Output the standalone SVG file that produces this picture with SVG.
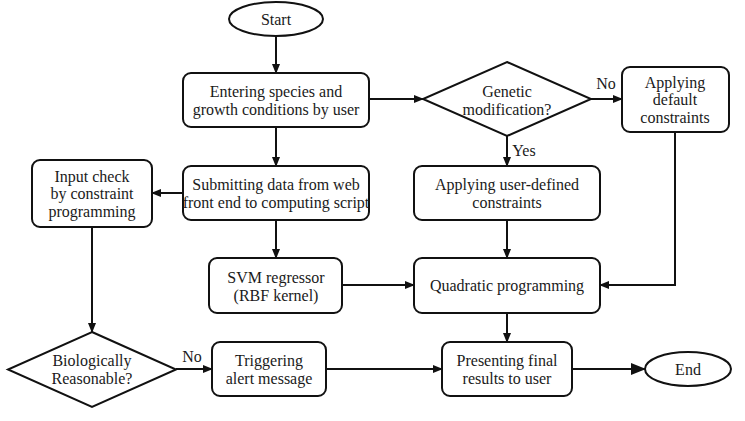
<svg xmlns="http://www.w3.org/2000/svg" width="745" height="421" viewBox="0 0 745 421">
<style>
.s{fill:#fff;stroke:#111;stroke-width:2}
.c{fill:none;stroke:#111;stroke-width:2}
text{font-family:'Liberation Serif','DejaVu Serif',serif;font-size:16px;fill:#1a1a1a;text-anchor:middle}
</style>
<defs>
<marker id="a" markerWidth="10" markerHeight="8" refX="9" refY="4" orient="auto" markerUnits="userSpaceOnUse"><path d="M0,0 L10,4 L0,8 Z" fill="#111"/></marker>
<marker id="b" markerWidth="15" markerHeight="12" refX="14" refY="6" orient="auto" markerUnits="userSpaceOnUse"><path d="M0,0 L15,6 L0,12 Z" fill="#111"/></marker>
</defs>
<rect width="745" height="421" fill="#fff"/>
<g id="connectors">
<path class="c" d="M276,36 V73" marker-end="url(#a)"/>
<path class="c" d="M369,99 H423" marker-end="url(#a)"/>
<path class="c" d="M590,99 H622" marker-end="url(#a)"/>
<path class="c" d="M507,136 V166" marker-end="url(#a)"/>
<path class="c" d="M507,220 V258" marker-end="url(#a)"/>
<path class="c" d="M675,132 V285 H600" marker-end="url(#a)"/>
<path class="c" d="M276,127 V166" marker-end="url(#a)"/>
<path class="c" d="M183,193 H152" marker-end="url(#a)"/>
<path class="c" d="M276,220 V258" marker-end="url(#a)"/>
<path class="c" d="M342,285 H414" marker-end="url(#a)"/>
<path class="c" d="M92,227 V332" marker-end="url(#a)"/>
<path class="c" d="M176,369 H212" marker-end="url(#a)"/>
<path class="c" d="M326,369 H442" marker-end="url(#a)"/>
<path class="c" d="M507,313 V342" marker-end="url(#a)"/>
<path class="c" d="M572,369 H645" marker-end="url(#b)"/>
<text x="606" y="89">No</text>
<text x="524" y="156">Yes</text>
<text x="192" y="362">No</text>
</g>
<g id="start"><ellipse class="s" cx="276" cy="19" rx="47" ry="17"/><text x="276" y="25">Start</text></g>
<g id="entering"><rect class="s" x="183" y="73" width="186" height="54" rx="8"/><text x="276" y="97">Entering species and</text><text x="276" y="115">growth conditions by user</text></g>
<g id="genetic"><polygon class="s" points="507,62 591,99 507,136 423,99"/><text x="507" y="97">Genetic</text><text x="507" y="115">modification?</text></g>
<g id="default"><rect class="s" x="622" y="67" width="107" height="65" rx="8"/><text x="675" y="88">Applying</text><text x="675" y="105">default</text><text x="675" y="123">constraints</text></g>
<g id="userdefined"><rect class="s" x="414" y="166" width="186" height="54" rx="8"/><text x="507" y="190">Applying user-defined</text><text x="507" y="208">constraints</text></g>
<g id="submitting"><rect class="s" x="183" y="166" width="186" height="54" rx="8"/><text x="276" y="190">Submitting data from web</text><text x="276" y="208">front end to computing script</text></g>
<g id="inputcheck"><rect class="s" x="32" y="160" width="120" height="67" rx="8"/><text x="92" y="182">Input check</text><text x="92" y="199">by constraint</text><text x="92" y="217">programming</text></g>
<g id="svm"><rect class="s" x="209" y="258" width="133" height="55" rx="8"/><text x="276" y="283">SVM regressor</text><text x="276" y="301">(RBF kernel)</text></g>
<g id="quadratic"><rect class="s" x="414" y="258" width="186" height="55" rx="8"/><text x="507" y="291">Quadratic programming</text></g>
<g id="biological"><polygon class="s" points="92,332 176,369.5 92,407 8,369.5"/><text x="92" y="366">Biologically</text><text x="92" y="384">Reasonable?</text></g>
<g id="triggering"><rect class="s" x="212" y="342" width="114" height="54" rx="8"/><text x="269" y="366">Triggering</text><text x="269" y="384">alert message</text></g>
<g id="presenting"><rect class="s" x="442" y="342" width="130" height="54" rx="8"/><text x="507" y="366">Presenting final</text><text x="507" y="384">results to user</text></g>
<g id="end"><ellipse class="s" cx="688" cy="369" rx="43" ry="17"/><text x="688" y="375">End</text></g>
</svg>
